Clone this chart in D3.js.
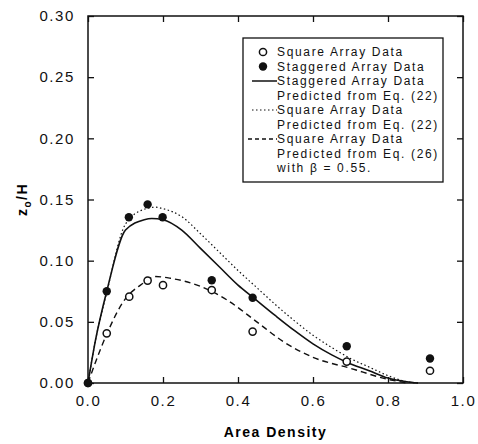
<!DOCTYPE html>
<html>
<head>
<meta charset="utf-8">
<title>z0/H vs Area Density</title>
<script src="https://d3js.org/d3.v7.min.js"></script>
<style>
html,body{margin:0;padding:0;background:#fff;}
svg{display:block;}
.tick text{font-family:"Liberation Sans",Arial,sans-serif;font-size:15px;letter-spacing:1.6px;fill:#111;}
.legend text{font-family:"Liberation Sans",Arial,sans-serif;font-size:12px;letter-spacing:1.65px;fill:#111;}
</style>
</head>
<body>
<script>
var squareX=[0,0.05,0.11,0.159,0.2,0.33,0.439,0.69,0.912];
var squareY=[0,0.0406,0.0706,0.0837,0.080,0.076,0.042,0.0175,0.010];
var staggerX=[0,0.05,0.109,0.159,0.199,0.33,0.439,0.69,0.912];
var staggerY=[0,0.075,0.1355,0.146,0.1355,0.084,0.0697,0.030,0.020];

// predicted curves
var stagPredX=[0,0.02,0.05,0.1,0.15,0.17,0.2,0.25,0.3,0.35,0.4,0.44,0.5,0.55,0.6,0.65,0.69,0.75,0.8,0.85,0.88];
var stagPredY=[0,0.035,0.075,0.125,0.1335,0.1345,0.1335,0.125,0.110,0.095,0.080,0.070,0.055,0.043,0.032,0.023,0.017,0.010,0.004,0.001,0];
var sqPredX=[0,0.02,0.05,0.1,0.15,0.18,0.2,0.25,0.3,0.35,0.4,0.45,0.5,0.55,0.6,0.65,0.7,0.75,0.8,0.85,0.88];
var sqPredY=[0,0.035,0.074,0.130,0.142,0.1437,0.1425,0.136,0.122,0.107,0.092,0.078,0.064,0.051,0.039,0.029,0.020,0.013,0.006,0.001,0];
var sqBetaX=[0,0.02,0.05,0.1,0.14,0.18,0.22,0.3,0.37,0.45,0.52,0.6,0.7,0.8,0.85];
var sqBetaY=[0,0.017,0.040,0.069,0.080,0.087,0.0856,0.079,0.068,0.050,0.034,0.021,0.012,0.003,0];

var xTicks=[0,0.2,0.4,0.6,0.8,1.0];
var yTicks=[0,0.05,0.10,0.15,0.20,0.25,0.30];

var legendLabels=[
	["Square Array Data"],
	["Staggered Array Data"],
	["Staggered Array Data","Predicted from Eq. (22)"],
	["Square Array Data","Predicted from Eq. (22)"],
	["Square Array Data","Predicted from Eq. (26)","with \u03b2 = 0.55."]
];

var W=478,H=444;
var svg=d3.select("body").append("svg")
	.attr("width",W)
	.attr("height",H);

var x=d3.scaleLinear().domain([0,1]).range([88,463]);
var y=d3.scaleLinear().domain([0,0.3]).range([383,16]);

// axes with inward ticks
svg.append("g")
	.attr("transform","translate(0,"+y(0)+")")
	.call(d3.axisBottom(x).tickValues(xTicks).tickFormat(d3.format(".1f")).tickSizeInner(-6).tickSizeOuter(0).tickPadding(12))
	.call(g=>g.select(".domain").remove());
svg.append("g")
	.attr("transform","translate("+x(0)+",0)")
	.call(d3.axisLeft(y).tickValues(yTicks).tickFormat(d3.format(".2f")).tickSizeInner(-6).tickSizeOuter(0).tickPadding(13))
	.call(g=>g.select(".domain").remove());
svg.append("g")
	.attr("transform","translate(0,"+y(0.3)+")")
	.call(d3.axisTop(x).tickValues(xTicks).tickFormat("").tickSizeInner(-6).tickSizeOuter(0))
	.call(g=>g.select(".domain").remove());
svg.append("g")
	.attr("transform","translate("+x(1)+",0)")
	.call(d3.axisRight(y).tickValues(yTicks).tickFormat("").tickSizeInner(-6).tickSizeOuter(0))
	.call(g=>g.select(".domain").remove());
svg.selectAll(".tick line").attr("stroke","#111").attr("stroke-width",1.3);

svg.append("rect")
	.attr("x",x(0)).attr("y",y(0.3))
	.attr("width",x(1)-x(0)).attr("height",y(0)-y(0.3))
	.attr("fill","none").attr("stroke","#111").attr("stroke-width",1.5);

// curves
var line=d3.line().x(d=>x(d[0])).y(d=>y(d[1])).curve(d3.curveMonotoneX);
function pairs(a,b){return a.map((v,i)=>[v,b[i]]);}

svg.append("path").datum(pairs(stagPredX,stagPredY))
	.attr("d",line).attr("fill","none").attr("stroke","#111").attr("stroke-width",1.6);
svg.append("path").datum(pairs(sqPredX,sqPredY))
	.attr("d",line).attr("fill","none").attr("stroke","#111").attr("stroke-width",1.2)
	.attr("stroke-dasharray","1.5,2.5");
svg.append("path").datum(pairs(sqBetaX,sqBetaY))
	.attr("d",line).attr("fill","none").attr("stroke","#111").attr("stroke-width",1.4)
	.attr("stroke-dasharray","6,4");

// points
svg.selectAll(".sq").data(pairs(squareX,squareY)).enter().append("circle")
	.attr("class","sq")
	.attr("cx",d=>x(d[0])).attr("cy",d=>y(d[1])).attr("r",3.6)
	.attr("fill","#fff").attr("stroke","#111").attr("stroke-width",1.5);
svg.selectAll(".st").data(pairs(staggerX,staggerY)).enter().append("circle")
	.attr("class","st")
	.attr("cx",d=>x(d[0])).attr("cy",d=>y(d[1])).attr("r",4.2)
	.attr("fill","#111");

// legend
var lg=svg.append("g").attr("class","legend");
lg.append("rect").attr("x",243).attr("y",38).attr("width",200).attr("height",144)
	.attr("fill","#fff").attr("stroke","#111").attr("stroke-width",1.3);
var lineH=14.5, ty=56, row=0;
legendLabels.forEach(function(lines,i){
	var cy=ty+row*lineH-4;
	if(i==0){
		lg.append("circle").attr("cx",263).attr("cy",cy).attr("r",3.6)
			.attr("fill","#fff").attr("stroke","#111").attr("stroke-width",1.5);
	}else if(i==1){
		lg.append("circle").attr("cx",263).attr("cy",cy).attr("r",4.2).attr("fill","#111");
	}else{
		var dash=i==2?null:(i==3?"1.5,2.5":"4,3");
		lg.append("line").attr("x1",i==4?248:252).attr("x2",277).attr("y1",cy).attr("y2",cy)
			.attr("stroke","#111").attr("stroke-width",i==3?1.2:1.5)
			.attr("stroke-dasharray",dash);
	}
	lines.forEach(function(t){
		lg.append("text").attr("x",277).attr("y",ty+row*lineH).text(t);
		row++;
	});
});

// axis titles
svg.append("text")
	.attr("x",(x(0)+x(1))/2).attr("y",437)
	.attr("text-anchor","middle")
	.style("font-family","Liberation Sans, Arial, sans-serif")
	.style("font-weight","bold").style("font-size","14px").style("letter-spacing","1.5px")
	.text("Area Density");

var yl=svg.append("text")
	.attr("transform","translate(27,"+((y(0)+y(0.3))/2)+") rotate(-90)")
	.attr("text-anchor","middle")
	.style("font-family","Liberation Sans, Arial, sans-serif")
	.style("font-weight","bold").style("font-size","14px").style("letter-spacing","1.5px");
yl.append("tspan").text("z");
yl.append("tspan").attr("dy",4).style("font-size","10px").text("o");
yl.append("tspan").attr("dy",-4).text("/H");
</script>
</body>
</html>
